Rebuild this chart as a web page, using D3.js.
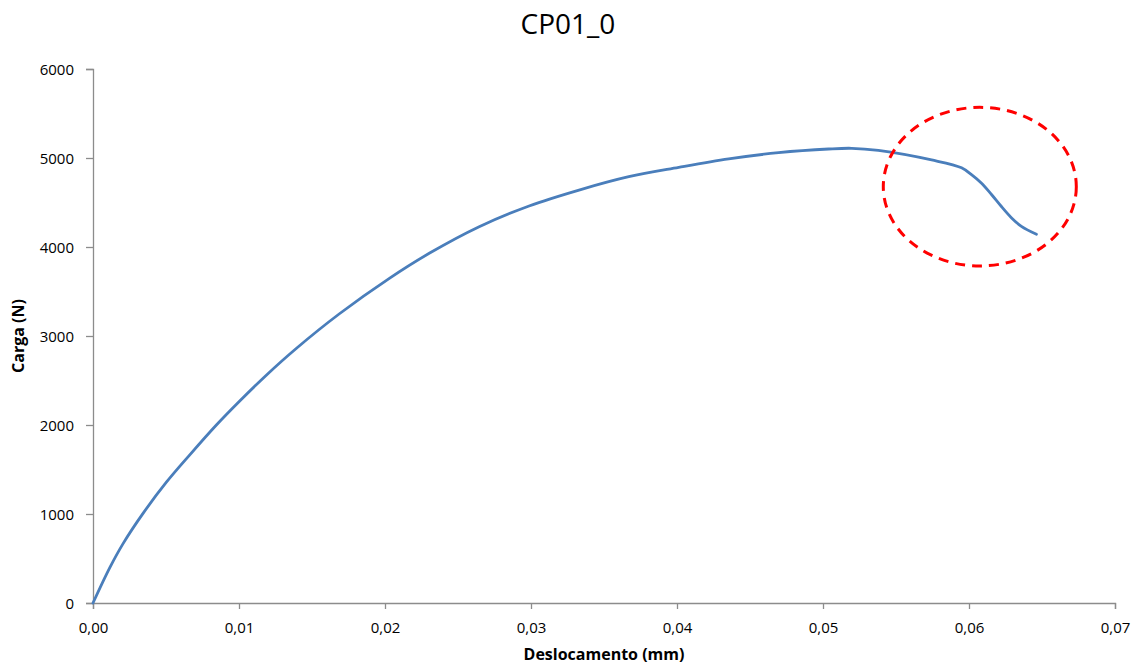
<!DOCTYPE html>
<html>
<head>
<meta charset="utf-8">
<script src="https://cdn.jsdelivr.net/npm/d3@7"></script>
<style>
  body { margin: 0; background: #fff; }
  text { font-family: "Open Sans", "DejaVu Sans", sans-serif; }
</style>
</head>
<body>
<div id="chart"></div>
<script>
// values
const deslocamento = [0, 0.00116, 0.00207, 0.00344, 0.00504, 0.00663, 0.00845, 0.01005, 0.01187,
  0.01392, 0.01688, 0.0203, 0.02303, 0.02645, 0.02987, 0.03329, 0.0367, 0.04012, 0.04354,
  0.04696, 0.05038, 0.05197, 0.05379, 0.05744, 0.05949, 0.06017, 0.06086, 0.06154,
  0.06222, 0.0629, 0.06359, 0.06462];
const carga = [0, 400, 670, 1010, 1360, 1665, 2000, 2270, 2560,
  2860, 3250, 3648, 3929, 4228, 4461, 4640, 4790, 4895, 4990,
  5060, 5101, 5109, 5085, 4978, 4890, 4812, 4716, 4590,
  4455, 4330, 4232, 4143];

const xTicks = [0, 0.01, 0.02, 0.03, 0.04, 0.05, 0.06, 0.07];
const yTicks = [0, 1000, 2000, 3000, 4000, 5000, 6000];

// highlighted region (centre x, centre y, radius x, radius y) in data units
const destaque = [0.06074, 4678, 0.00661, 891];

const width = 1138, height = 666;
const margin = { top: 69, right: 23, bottom: 63, left: 93 };

const svg = d3.select("#chart").append("svg")
  .attr("width", width)
  .attr("height", height);

const x = d3.scaleLinear().domain([0, 0.07]).range([margin.left, width - margin.right]);
const y = d3.scaleLinear().domain([0, 6000]).range([height - margin.bottom, margin.top]);

const ptBR = d3.formatLocale({ decimal: ",", thousands: "", grouping: [3], currency: ["R$", ""] });

const xAxis = svg.append("g")
  .attr("transform", `translate(0,${y(0)})`)
  .call(d3.axisBottom(x).tickValues(xTicks).tickFormat(ptBR.format(".2f")).tickSize(6).tickPadding(13));

const yAxis = svg.append("g")
  .attr("transform", `translate(${x(0)},0)`)
  .call(d3.axisLeft(y).tickValues(yTicks).tickFormat(d3.format("d")).tickSize(7).tickPadding(12));

[xAxis, yAxis].forEach(a => {
  a.select(".domain").attr("stroke", "#8c8c8c").attr("stroke-width", 1.3);
  a.selectAll(".tick line").attr("stroke", "#8c8c8c").attr("stroke-width", 1.3);
  a.selectAll(".tick text").attr("fill", "#000").style("font-size", "15px")
    .style("font-family", "'Open Sans', sans-serif");
});
yAxis.selectAll(".tick text").attr("dy", "0.35em");

const line = d3.line()
  .x((d, i) => x(deslocamento[i]))
  .y(d => y(d))
  .curve(d3.curveCatmullRom.alpha(0.5));

svg.append("path")
  .datum(carga)
  .attr("fill", "none")
  .attr("stroke", "#4a7ebb")
  .attr("stroke-width", 2.8)
  .attr("stroke-linejoin", "round")
  .attr("stroke-linecap", "round")
  .attr("d", line);

svg.append("ellipse")
  .attr("cx", x(destaque[0]))
  .attr("cy", y(destaque[1]))
  .attr("rx", x(destaque[2]) - x(0))
  .attr("ry", y(0) - y(destaque[3]))
  .attr("fill", "none")
  .attr("stroke", "#ff0000")
  .attr("stroke-width", 3)
  .attr("stroke-dasharray", "10,7");

svg.append("text")
  .attr("x", 568)
  .attr("y", 34)
  .attr("text-anchor", "middle")
  .style("font-size", "28px")
  .attr("fill", "#000")
  .text("CP01_0");

svg.append("text")
  .attr("x", (x(0) + x(0.07)) / 2)
  .attr("y", 660)
  .attr("text-anchor", "middle")
  .style("font-family", "'Liberation Sans Narrow', 'Open Sans', sans-serif")
  .style("font-size", "16px")
  .style("font-weight", "bold")
  .attr("fill", "#000")
  .text("Deslocamento (mm)");

svg.append("text")
  .attr("transform", `translate(24,${(y(0) + y(6000)) / 2}) rotate(-90)`)
  .attr("text-anchor", "middle")
  .style("font-family", "'Liberation Sans Narrow', 'Open Sans', sans-serif")
  .style("font-size", "16px")
  .style("font-weight", "bold")
  .attr("fill", "#000")
  .text("Carga (N)");
</script>
</body>
</html>
